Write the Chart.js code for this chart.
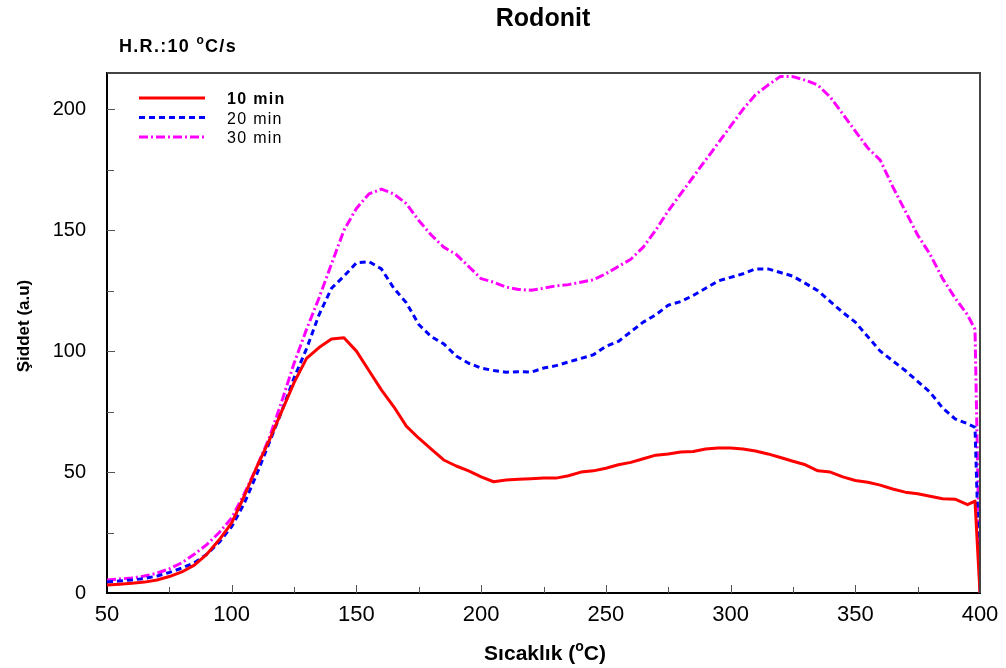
<!DOCTYPE html>
<html>
<head>
<meta charset="utf-8">
<title>Rodonit</title>
<script src="https://cdn.jsdelivr.net/npm/chart.js@4/dist/chart.umd.min.js"></script>
<style>
  html, body { margin: 0; padding: 0; background: #fff; }
  #wrap { width: 1006px; height: 668px; position: relative; }
</style>
</head>
<body>
<div id="wrap"><canvas id="glowChart"></canvas></div>
<script>
// temperature (°C) and glow intensity (a.u) for each annealing time
const temps = [50, 55, 60, 65, 70, 75, 80, 85, 90, 95, 100, 105, 110, 115, 120, 125, 130, 135, 140, 145,
  150, 155, 160, 165, 170, 175, 180, 185, 190, 195, 200, 205, 210, 215, 220, 225, 230, 235, 240, 245,
  250, 255, 260, 265, 270, 275, 280, 285, 290, 295, 300, 305, 310, 315, 320, 325, 330, 335, 340, 345,
  350, 355, 360, 365, 370, 375, 380, 385, 390, 395, 398, 400];

const min10 = [3.3, 3.6, 4.0, 4.5, 5.4, 6.8, 8.7, 11.5, 16, 22, 29, 40, 52, 63, 75, 87, 97, 101.5, 105, 105.5,
  100, 92, 84, 77, 69, 64, 59.5, 55, 52.5, 50.5, 48, 46, 46.7, 47, 47.2, 47.5, 47.5, 48.5, 50, 50.5,
  51.6, 53, 54, 55.5, 57, 57.5, 58.3, 58.5, 59.5, 60, 60, 59.5, 58.7, 57.5, 56, 54.5, 53, 50.5, 50, 48,
  46.5, 45.8, 44.6, 43, 41.7, 41, 40, 39, 38.8, 36.5, 38, 0];

const min20 = [4.5, 5, 5.4, 6, 7, 8.5, 10.3, 12.5, 16, 21, 27.5, 37, 49, 62, 75, 89, 101, 115, 126, 131,
  136.5, 137, 134, 126, 120, 111, 106, 103, 98, 95, 93, 92, 91.3, 91.5, 91.3, 93, 94, 95.5, 97, 98.5,
  102, 104, 108, 112, 115, 119, 120.5, 123, 126, 129, 130.5, 132, 134, 134, 132.5, 131, 128, 125, 120.5, 116,
  112, 106, 100, 96, 92, 87.5, 83, 76.5, 72, 70, 68.5, 0];

const min30 = [5.4, 5.8, 6.2, 7, 8.2, 10, 12.5, 16, 20, 25, 31, 41, 52, 64, 79, 95, 109, 122, 136, 150,
  159, 165, 167, 165, 161, 154, 148, 143, 140, 135, 130, 128.5, 126.5, 125.5, 125.2, 126, 127, 127.5, 128.5, 129.5,
  132, 135, 138, 143, 150, 158, 165, 172, 179, 186, 193, 200, 206, 210, 213.6, 213.5, 212, 210, 205, 198,
  191, 184, 179, 168, 158, 148, 140, 130, 122, 115, 109, 0];

const seriesLabels = ['10 min', '20 min', '30 min'];
const xTicks = [50, 100, 150, 200, 250, 300, 350, 400];
const yTicks = [0, 50, 100, 150, 200];

const SANS = "'Liberation Sans', Arial, sans-serif";

function toPoints(values) {
  return temps.map((t, i) => ({ x: t, y: values[i] }));
}

// text with an optional raised small "o" (degree sign) in the middle
function drawParts(ctx, parts, x, y, size, weight, spacing, align) {
  ctx.save();
  ctx.letterSpacing = (spacing || 0) + 'px';
  ctx.textBaseline = 'alphabetic';
  ctx.textAlign = 'left';
  let total = 0;
  parts.forEach(p => {
    ctx.font = weight + ' ' + (p.sup ? Math.round(size * 0.68) : size) + 'px ' + SANS;
    p.w = ctx.measureText(p.text).width;
    total += p.w;
  });
  let cx = align === 'center' ? x - total / 2 : x;
  parts.forEach(p => {
    ctx.font = weight + ' ' + (p.sup ? Math.round(size * 0.68) : size) + 'px ' + SANS;
    ctx.fillText(p.text, cx, p.sup ? y - size * 0.42 : y);
    cx += p.w;
  });
  ctx.restore();
}

const framePlugin = {
  id: 'frame',
  afterDraw(chart) {
    const ctx = chart.ctx;
    const a = chart.chartArea;
    const xs = chart.scales.x, ys = chart.scales.y;

    ctx.save();
    // top and right edges of the plot box
    ctx.strokeStyle = '#444';
    ctx.lineWidth = 2;
    ctx.beginPath();
    ctx.moveTo(a.left, a.top);
    ctx.lineTo(a.right, a.top);
    ctx.lineTo(a.right, a.bottom);
    ctx.stroke();

    // inward tick marks, minor every 25
    ctx.strokeStyle = '#555';
    ctx.lineWidth = 1;
    ctx.beginPath();
    for (let v = 75; v < 400; v += 25) {
      const px = Math.round(xs.getPixelForValue(v)) + 0.5;
      const len = v % 50 === 0 ? 8 : 6;
      ctx.moveTo(px, a.bottom);
      ctx.lineTo(px, a.bottom - len);
    }
    for (let v = 25; v <= 200; v += 25) {
      const py = Math.round(ys.getPixelForValue(v)) + 0.5;
      const len = v % 50 === 0 ? 8 : 7;
      ctx.moveTo(a.left, py);
      ctx.lineTo(a.left + len, py);
    }
    ctx.stroke();
    ctx.restore();

    // titles
    ctx.save();
    ctx.fillStyle = '#000';
    drawParts(ctx, [{ text: 'Rodonit' }], 543, 26, 25, 'bold', 0, 'center');
    drawParts(ctx, [{ text: 'H.R.:10 ' }, { text: 'o', sup: true }, { text: 'C/s' }], 119, 52, 18, 'bold', 1.3, 'left');
    drawParts(ctx, [{ text: 'Sıcaklık (' }, { text: 'o', sup: true }, { text: 'C)' }], 545, 660, 21, 'bold', 0, 'center');
    ctx.translate(29, 326);
    ctx.rotate(-Math.PI / 2);
    drawParts(ctx, [{ text: 'Şiddet (a.u)' }], 0, 0, 17, 'bold', 0, 'center');
    ctx.restore();

    // legend inside the plot, built from the datasets
    ctx.save();
    chart.data.datasets.forEach((ds, i) => {
      const y = 98 + i * 19.5;
      ctx.strokeStyle = ds.borderColor;
      ctx.lineWidth = 3;
      ctx.setLineDash(ds.borderDash || []);
      ctx.beginPath();
      ctx.moveTo(139, y);
      ctx.lineTo(205, y);
      ctx.stroke();
      ctx.setLineDash([]);
      ctx.fillStyle = '#000';
      drawParts(ctx, [{ text: ds.label }], 227, y + 6, 16, i === 0 ? 'bold' : 'normal', 1.3, 'left');
    });
    ctx.restore();
  }
};

new Chart(document.getElementById('glowChart'), {
  type: 'line',
  data: {
    datasets: [
      {
        label: seriesLabels[0],
        data: toPoints(min10),
        borderColor: '#ff0000',
        borderWidth: 3
      },
      {
        label: seriesLabels[1],
        data: toPoints(min20),
        borderColor: '#0000ff',
        borderWidth: 3,
        borderDash: [6, 4]
      },
      {
        label: seriesLabels[2],
        data: toPoints(min30),
        borderColor: '#ff00ff',
        borderWidth: 3,
        borderDash: [9, 3, 2, 3]
      }
    ]
  },
  options: {
    responsive: true,
    maintainAspectRatio: false,
    animation: false,
    devicePixelRatio: 1,
    layout: { padding: { left: 0, top: 73, right: 26, bottom: 0 } },
    elements: {
      point: { radius: 0 },
      line: { tension: 0, fill: false, borderJoinStyle: 'round' }
    },
    plugins: {
      legend: { display: false },
      tooltip: { enabled: false },
      title: { display: false }
    },
    scales: {
      x: {
        type: 'linear',
        min: 50,
        max: 400,
        afterFit: s => { s.height = 75; },
        afterBuildTicks: s => { s.ticks = xTicks.map(v => ({ value: v })); },
        ticks: {
          color: '#000',
          padding: 1,
          maxRotation: 0,
          font: { family: SANS, size: 22 }
        },
        grid: { display: false },
        border: { color: '#000', width: 2 }
      },
      y: {
        min: 0,
        max: 215,
        afterFit: s => { s.width = 107; },
        afterBuildTicks: s => { s.ticks = yTicks.map(v => ({ value: v })); },
        ticks: {
          color: '#000',
          padding: 13,
          font: { family: SANS, size: 20 }
        },
        grid: { display: false },
        border: { color: '#000', width: 2 }
      }
    }
  },
  plugins: [framePlugin]
});
</script>
</body>
</html>
